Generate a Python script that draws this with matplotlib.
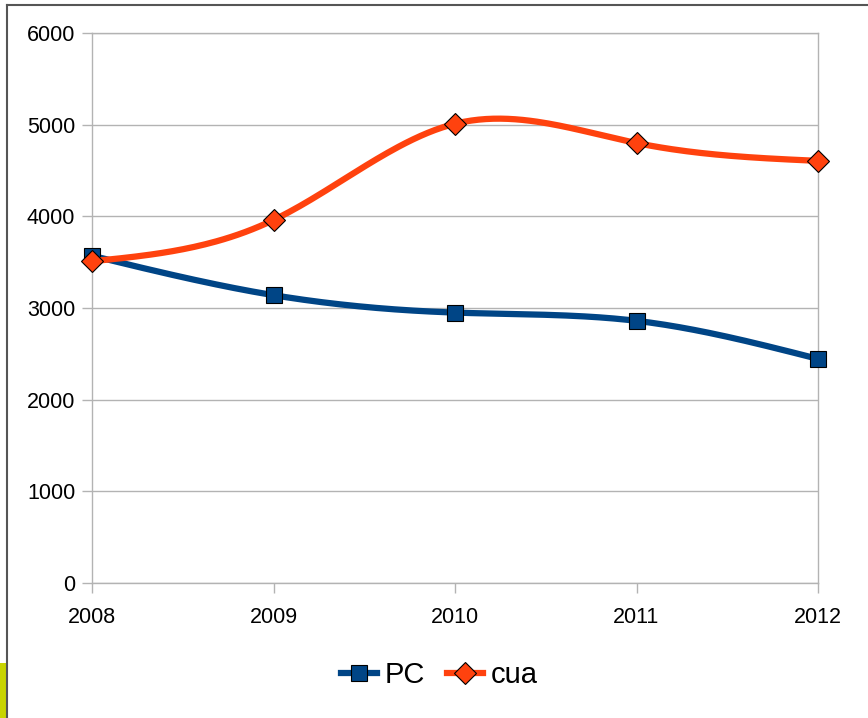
import numpy as np
import matplotlib.pyplot as plt
from matplotlib.lines import Line2D
from matplotlib.patches import Rectangle

plt.rcParams['font.family'] = ['Liberation Sans', 'DejaVu Sans']

years = [2008, 2009, 2010, 2011, 2012]
pc = [3570, 3140, 2950, 2860, 2445]
cua = [3510, 3960, 5010, 4800, 4605]

blue = '#004586'
orange = '#ff420e'


def smooth(x, y, n=200):
    # natural cubic spline, only used to draw the curve between the points
    x = np.asarray(x, float)
    y = np.asarray(y, float)
    k = len(x)
    h = np.diff(x)
    A = np.zeros((k, k))
    b = np.zeros(k)
    A[0, 0] = A[-1, -1] = 1
    for i in range(1, k - 1):
        A[i, i - 1] = h[i - 1]
        A[i, i] = 2 * (h[i - 1] + h[i])
        A[i, i + 1] = h[i]
        b[i] = 6 * ((y[i + 1] - y[i]) / h[i] - (y[i] - y[i - 1]) / h[i - 1])
    m = np.linalg.solve(A, b)
    xs = np.linspace(x[0], x[-1], n)
    idx = np.clip(np.searchsorted(x, xs) - 1, 0, k - 2)
    t = xs - x[idx]
    hi = h[idx]
    a = y[idx]
    c1 = (y[idx + 1] - y[idx]) / hi - hi * (2 * m[idx] + m[idx + 1]) / 6
    c2 = m[idx] / 2
    c3 = (m[idx + 1] - m[idx]) / (6 * hi)
    return xs, a + c1 * t + c2 * t ** 2 + c3 * t ** 3


fig = plt.figure(figsize=(8.68, 7.18), dpi=100)
ax = fig.add_axes([92 / 868, 1 - 583 / 718, 726 / 868, 550 / 718])

lw = 4.5
pc_style = dict(marker='s', ms=12, mfc=blue, mec='black', mew=0.8)
cua_style = dict(marker='D', ms=11.5, mfc=orange, mec='black', mew=0.8)

xs, ys = smooth(years, pc)
ax.plot(xs, ys, color=blue, lw=lw, zorder=3, clip_on=False)
ax.plot(years, pc, ls='none', zorder=4, clip_on=False, **pc_style)
xs, ys = smooth(years, cua)
ax.plot(xs, ys, color=orange, lw=lw, zorder=5, clip_on=False)
ax.plot(years, cua, ls='none', zorder=6, clip_on=False, **cua_style)

ax.set_xlim(2008, 2012)
ax.set_ylim(0, 6000)
ax.set_xticks(years)
ax.set_xticklabels([str(y) for y in years])
ax.set_yticks(range(0, 6001, 1000))
ax.yaxis.grid(True, color='#b3b3b3', lw=1)
ax.set_axisbelow(True)
for s in ax.spines.values():
    s.set_color('#b3b3b3')
    s.set_linewidth(1)
ax.tick_params(length=7, width=1, color='#b3b3b3', labelsize=15.5, direction='out')
ax.tick_params(axis='y', pad=5)
ax.tick_params(axis='x', pad=10)

handles = [
    Line2D([], [], color=blue, lw=lw, **pc_style),
    Line2D([], [], color=orange, lw=lw, **cua_style),
]
fig.legend(handles, ['PC', 'cua'], loc='center', bbox_to_anchor=(439 / 868, 1 - 675 / 718),
           ncol=2, frameon=False, fontsize=21, handlelength=1.25, handletextpad=0.25,
           columnspacing=0.75)

# slide frame around the chart
fig.add_artist(Line2D([7 / 868, 1], [1 - 5 / 718, 1 - 5 / 718], color='#555555', lw=1.5))
fig.add_artist(Line2D([7 / 868, 7 / 868], [0, 1 - 5 / 718], color='#555555', lw=1.5))
fig.add_artist(Rectangle((0, 0), 6 / 868, 55 / 718, color='#c8d400', lw=0))

fig.savefig('out.png', dpi=100)
